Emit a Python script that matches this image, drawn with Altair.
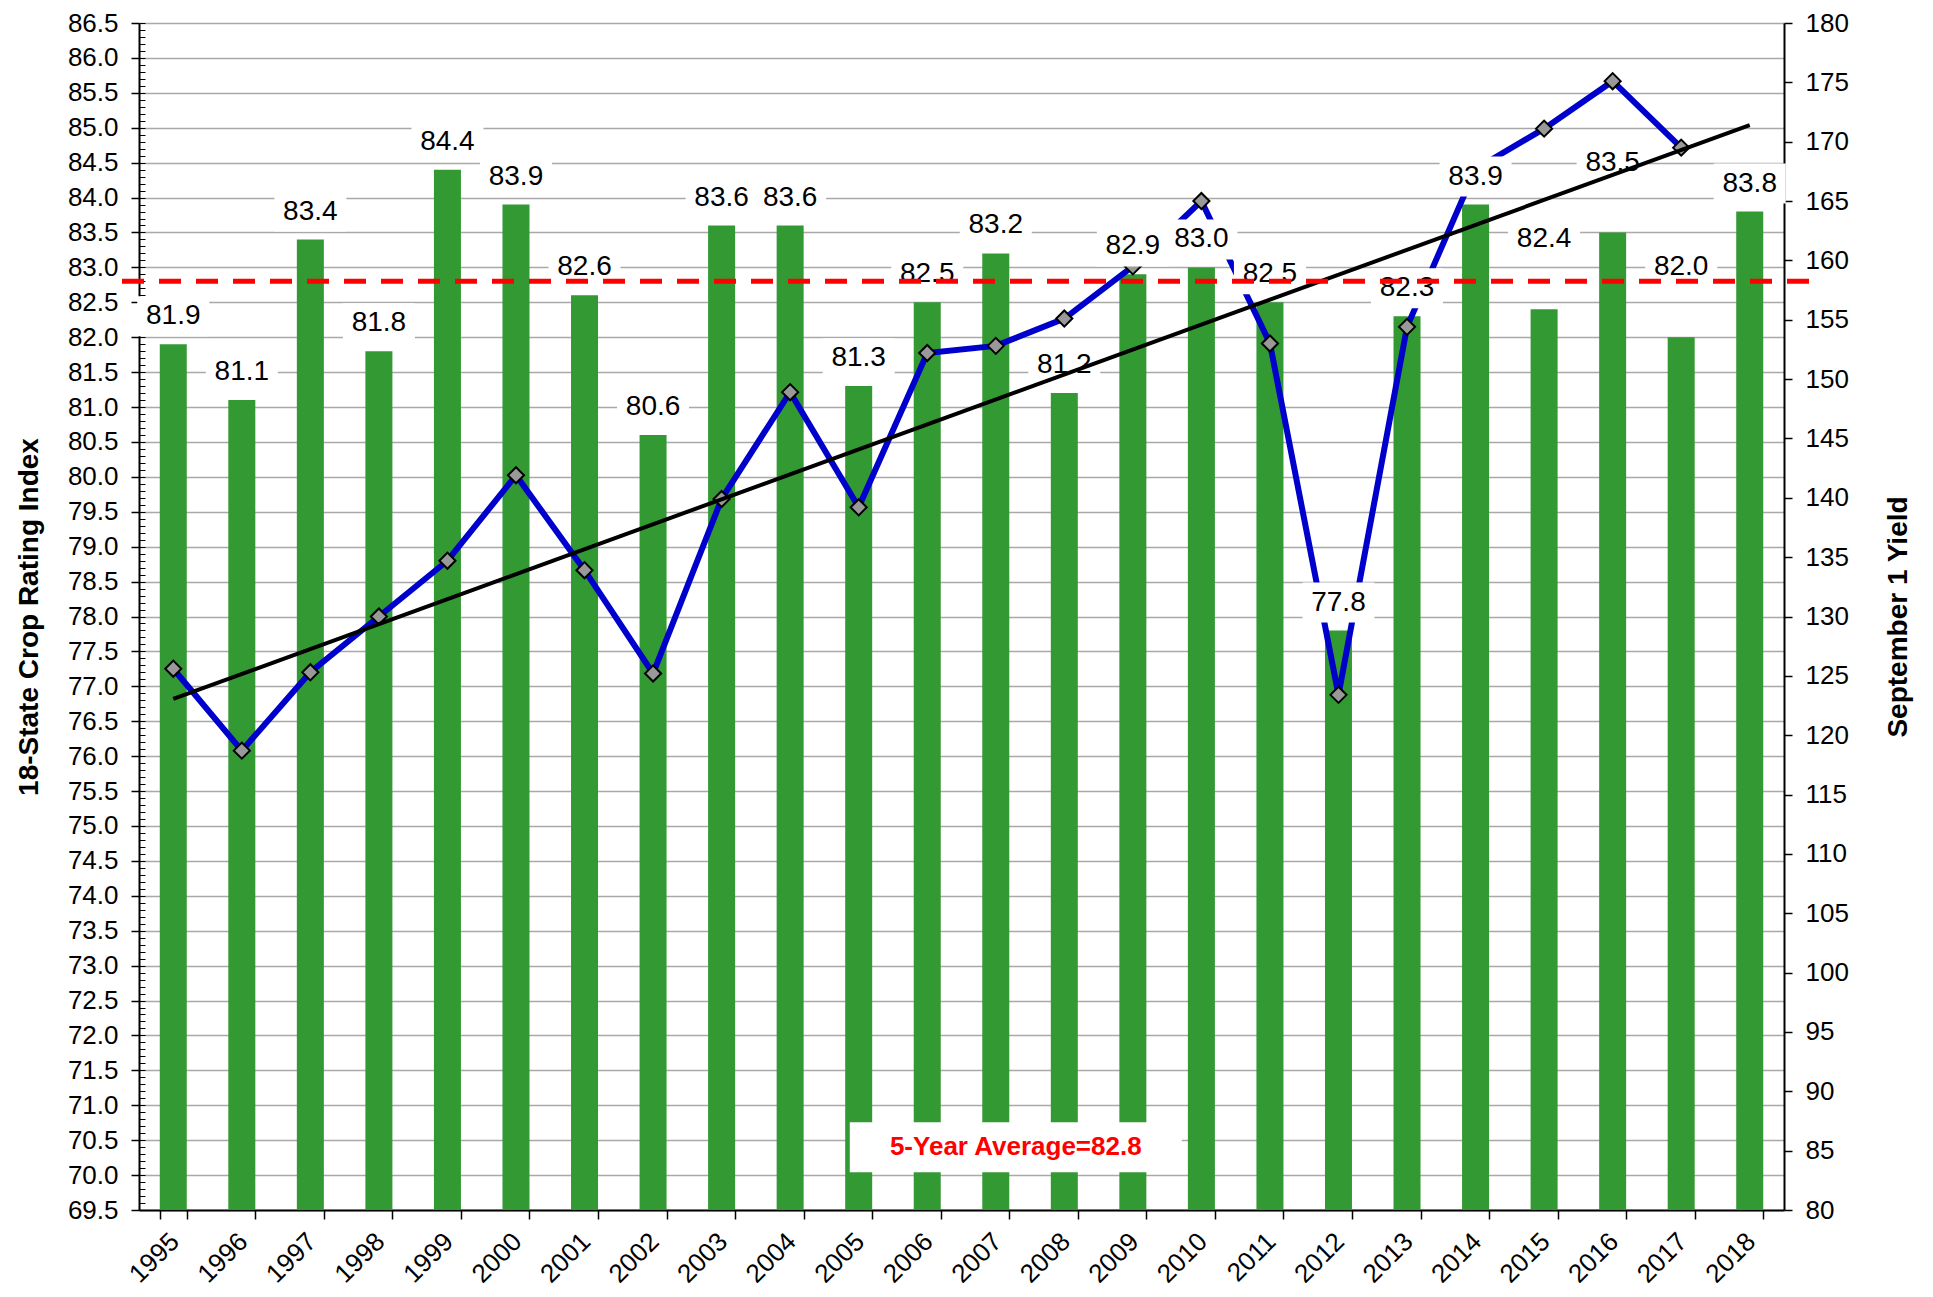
import altair as alt
import numpy as np
import pandas as pd

# ---------------- data ----------------
YEARS = list(range(1995, 2019))
RATING_INDEX = [81.9, 81.1, 83.4, 81.8, 84.4, 83.9, 82.6, 80.6, 83.6, 83.6, 81.3, 82.5,
                83.2, 81.2, 82.9, 83.0, 82.5, 77.8, 82.3, 83.9, 82.4, 83.5, 82.0, 83.8]
YIELD_YEARS = list(range(1995, 2018))
SEPT1_YIELD = [125.6, 118.7, 125.3, 130.0, 134.7, 141.9, 133.9, 125.2, 139.9, 148.9, 139.2,
               152.2, 152.8, 155.1, 159.5, 165.0, 153.0, 123.4, 154.4, 167.7, 171.1, 175.1, 169.5]
FIVE_YEAR_AVG = 82.8
AVG_TEXT = "5-Year Average=82.8"
AVG_TEXT_YEAR = 2007
AVG_TEXT_LEVEL = 70.4
LEFT_TICKS = [round(69.5 + 0.5 * i, 1) for i in range(35)]
LEFT_MINOR = [round(69.5 + 0.1 * i, 1) for i in range(171)]
RIGHT_TICKS = list(range(80, 181, 5))

FONT = "Liberation Sans"
W, H = 1645, 1187
LEFT_DOMAIN = [69.5, 86.5]
RIGHT_DOMAIN = [80, 180]

bars_df = pd.DataFrame({"year": YEARS, "value": RATING_INDEX})
yield_df = pd.DataFrame({"year": YIELD_YEARS, "yield": SEPT1_YIELD})
slope, intercept = np.polyfit(YIELD_YEARS, SEPT1_YIELD, 1)
trend_df = pd.DataFrame({"year": [YEARS[0], YEARS[-1]],
                         "trend": [intercept + slope * YEARS[0], intercept + slope * YEARS[-1]]})
avg_df = pd.DataFrame({"year": [AVG_TEXT_YEAR], "level": [AVG_TEXT_LEVEL], "text": [AVG_TEXT]})
rule_df = pd.DataFrame({"avg": [FIVE_YEAR_AVG]})

# ---------------- encodings ----------------
x_axis = alt.Axis(orient="bottom", labelAngle=315, labelFontSize=26, labelColor="black",
                  labelPadding=9, labelOffset=-8, tickBand="extent", tickSize=9,
                  tickColor="black", tickWidth=1.5, domainColor="black", domainWidth=2,
                  grid=False, title="", labelFont=FONT)


def xenc():
    return alt.X("year:O", scale=alt.Scale(paddingInner=0.606, paddingOuter=0.303), axis=x_axis)


def lscale():
    return alt.Scale(domain=LEFT_DOMAIN, zero=False, nice=False)


def rscale():
    return alt.Scale(domain=RIGHT_DOMAIN, zero=False, nice=False)


left_axis = alt.Axis(orient="left", values=LEFT_TICKS, format=".1f", labelFont=FONT,
                     labelFontSize=26, labelColor="black", labelPadding=13, labelOverlap=False,
                     tickSize=8, tickColor="black", tickWidth=1.5, domainColor="black",
                     domainWidth=2, grid=True, gridColor="#a9a9a9", gridWidth=1.5,
                     title="18-State Crop Rating Index", titleFont=FONT, titleFontSize=28,
                     titleFontWeight="bold", titleColor="black", titlePadding=24)

minor_axis = alt.Axis(orient="left", values=LEFT_MINOR, labels=False, domain=False, grid=False,
                      tickSize=6, tickColor="black", tickWidth=1, offset=-6, title="")

right_axis = alt.Axis(orient="right", values=RIGHT_TICKS, format="d", labelFont=FONT,
                      labelFontSize=26, labelColor="black", labelPadding=13, labelOverlap=False,
                      tickSize=8, tickColor="black", tickWidth=1.5, domainColor="black",
                      domainWidth=2, grid=False, title="September 1 Yield", titleFont=FONT,
                      titleFontSize=28, titleFontWeight="bold", titleColor="black",
                      titleAngle=270, titlePadding=64)

# ---------------- layers ----------------
bars = alt.Chart(bars_df).mark_bar(color="#339933").encode(
    x=xenc(),
    y=alt.Y("value:Q", scale=lscale(), axis=left_axis),
    y2=alt.Y2Datum(69.5),
)

minor = alt.Chart(bars_df).mark_point(opacity=0).encode(
    x=xenc(),
    y=alt.Y("value:Q", scale=lscale(), axis=minor_axis),
)

yline = alt.Chart(yield_df).mark_line(color="#0000CC", strokeWidth=6).encode(
    x=xenc(),
    y=alt.Y("yield:Q", scale=rscale(), axis=right_axis),
)

ypoints = alt.Chart(yield_df).mark_point(shape="diamond", size=260, filled=True, fill="#999999",
                                         stroke="black", strokeWidth=2, opacity=1).encode(
    x=xenc(),
    y=alt.Y("yield:Q", scale=rscale(), axis=None),
)

label_base = alt.Chart(bars_df).transform_calculate(
    label_y="datum.value + (datum.year >= 2015 && datum.year <= 2017 ? 1.0 : 0.4)"
)

label_boxes = label_base.mark_point(shape="M-1.8,-1H1.8V1H-1.8Z", size=1600, filled=True,
                                    fill="white", opacity=1, strokeWidth=0).encode(
    x=xenc(),
    y=alt.Y("label_y:Q", scale=lscale(), axis=None),
)

label_text = label_base.mark_text(font=FONT, fontSize=28, color="black", baseline="middle",
                                  align="center").encode(
    x=xenc(),
    y=alt.Y("label_y:Q", scale=lscale(), axis=None),
    text=alt.Text("value:Q", format=".1f"),
)

trend = alt.Chart(trend_df).mark_line(color="black", strokeWidth=4).encode(
    x=xenc(),
    y=alt.Y("trend:Q", scale=rscale(), axis=None),
)

avg_rule = alt.Chart(rule_df).mark_rule(color="#FF0000", strokeWidth=5, strokeDash=[22, 15]).encode(
    x=alt.value(-17),
    x2=alt.value(W + 38),
    y=alt.Y("avg:Q", scale=lscale(), axis=None),
)

avg_box = alt.Chart(avg_df).mark_point(shape="M-5.84,-1H7.44V1H-5.84Z", size=2500, filled=True,
                                       fill="white", opacity=1, strokeWidth=0).encode(
    x=xenc(),
    y=alt.Y("level:Q", scale=lscale(), axis=None),
)

avg_text = alt.Chart(avg_df).mark_text(font=FONT, fontSize=26, fontWeight="bold", color="#FF0000",
                                       baseline="middle", align="center", dx=20).encode(
    x=xenc(),
    y=alt.Y("level:Q", scale=lscale(), axis=None),
    text="text:N",
)

chart = alt.layer(
    bars, minor, yline, ypoints, label_boxes, label_text, trend, avg_rule, avg_box, avg_text
).resolve_scale(y="independent").properties(
    width=W, height=H,
    padding={"left": 131, "top": 15, "right": 140, "bottom": 79},
    autosize=alt.AutoSizeParams(type="none"),
    background="white",
).configure_view(stroke=None)

chart.save("out.html", embed_options={"renderer": "svg", "actions": False})
